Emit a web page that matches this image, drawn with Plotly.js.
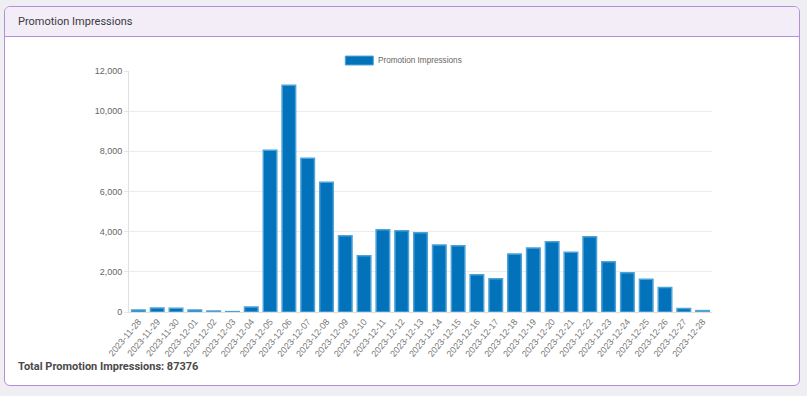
<!DOCTYPE html>
<html>
<head>
<meta charset="utf-8">
<script src="https://cdn.plot.ly/plotly-3.0.1.min.js"></script>
<style>
  html, body { margin:0; padding:0; width:807px; height:396px; background:#efeef3; overflow:hidden; font-family: Roboto, "Liberation Sans", sans-serif; }
  #card { position:absolute; left:4px; top:6px; width:796px; height:380px; background:#ffffff; border:1px solid #b48ddb; border-radius:6px; box-sizing:border-box; overflow:hidden; }
  #hdr { position:absolute; left:0; top:0; width:100%; height:30px; background:#f3edf8; border-bottom:1px solid #b48ddb; box-sizing:border-box; }
  #hdr span { position:absolute; left:13px; top:8px; font-size:11px; color:#3a3a3a; }
  #total { position:absolute; left:13px; top:353px; font-size:11px; font-weight:bold; color:#4a4a4a; }
  #chart { position:absolute; left:0; top:0; width:807px; height:396px; }
</style>
</head>
<body>
<div id="card">
  <div id="hdr"><span>Promotion Impressions</span></div>
  <div id="total">Total Promotion Impressions: 87376</div>
</div>
<div id="chart"></div>
<script>
const dates = ["2023-11-28","2023-11-29","2023-11-30","2023-12-01","2023-12-02","2023-12-03","2023-12-04",
  "2023-12-05","2023-12-06","2023-12-07","2023-12-08","2023-12-09","2023-12-10","2023-12-11","2023-12-12",
  "2023-12-13","2023-12-14","2023-12-15","2023-12-16","2023-12-17","2023-12-18","2023-12-19","2023-12-20",
  "2023-12-21","2023-12-22","2023-12-23","2023-12-24","2023-12-25","2023-12-26","2023-12-27","2023-12-28"];
const impressions = [100,200,190,100,50,20,250,
  8050,11290,7650,6460,3800,2805,4100,4050,
  3950,3333,3300,1860,1660,2885,3185,3500,
  2970,3750,2505,1960,1625,1215,170,70];
const seriesName = "Promotion Impressions";
const yTicks = [0,2000,4000,6000,8000,10000,12000];

const trace = {
  type: 'bar',
  x: dates,
  y: impressions,
  name: seriesName,
  marker: { color: '#0273bb', line: { color: '#4da2d8', width: 1.5 } },
  hoverinfo: 'x+y'
};

const layout = {
  width: 807, height: 396,
  margin: { l: 129, r: 95, t: 71, b: 84 },
  paper_bgcolor: 'rgba(0,0,0,0)',
  plot_bgcolor: 'rgba(0,0,0,0)',
  showlegend: false,
  bargap: 0.28,
  font: { family: '"Liberation Sans", Arial, sans-serif', size: 9, color: '#666' },
  xaxis: {
    type: 'category',
    tickangle: -50,
    showgrid: false,
    showline: true, linecolor: '#e0e0e0', linewidth: 1,
    ticks: '', tickfont: { size: 9, color: '#777' },
    automargin: false
  },
  yaxis: {
    range: [0, 12000],
    tickvals: yTicks,
    tickformat: ',d',
    showgrid: true, gridcolor: '#ececec', gridwidth: 1,
    zeroline: false,
    showline: true, linecolor: '#e0e0e0', linewidth: 1,
    ticks: 'outside', ticklen: 4, tickcolor: '#e6e6e6',
    tickfont: { size: 9, color: '#666' },
    automargin: false
  },
  shapes: [
    { type: 'rect', xref: 'paper', yref: 'paper', x0: 0.371, x1: 0.419, y0: 1.025, y1: 1.062,
      fillcolor: '#0273bb', line: { color: '#4da2d8', width: 1 } }
  ],
  annotations: [
    { xref: 'paper', yref: 'paper', x: 0.423, y: 1.044, xanchor: 'left', yanchor: 'middle',
      text: seriesName, showarrow: false, font: { size: 8.2, color: '#666' } }
  ]
};

Plotly.newPlot('chart', [trace], layout, { displayModeBar: false, staticPlot: true });
</script>
</body>
</html>
